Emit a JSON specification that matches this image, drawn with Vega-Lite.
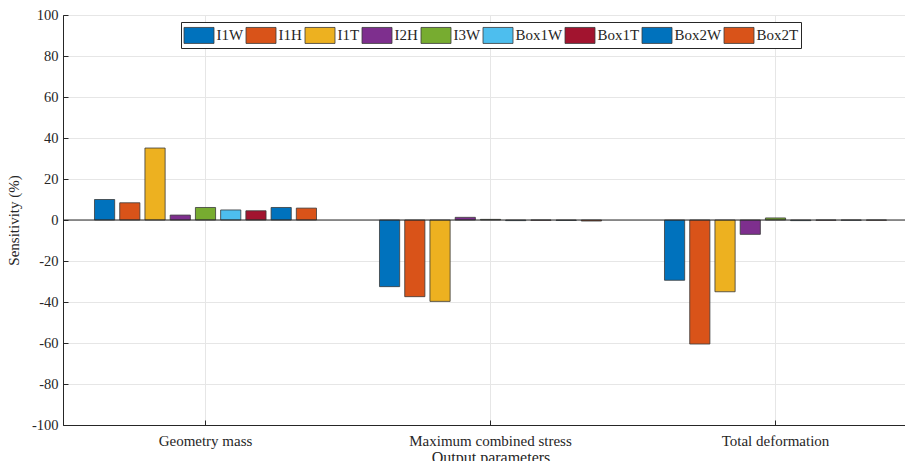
{
  "$schema": "https://vega.github.io/schema/vega-lite/v6.json",
  "autosize": {"type": "none"},
  "padding": {"left": 63, "top": 15, "right": -13, "bottom": 36},
  "width": 855,
  "height": 410,
  "background": "white",
  "config": {
    "font": "Liberation Serif",
    "view": {"stroke": "#262626", "strokeWidth": 1},
    "axis": {
      "labelFont": "Liberation Serif",
      "titleFont": "Liberation Serif",
      "labelColor": "#262626",
      "titleColor": "#262626",
      "titleFontWeight": "normal",
      "labelFontSize": 14,
      "titleFontSize": 15,
      "domainColor": "#262626",
      "tickColor": "#262626",
      "gridColor": "#e6e6e6",
      "gridWidth": 1
    }
  },
  "data": {
    "values": [
      {"output": "Geometry mass", "param": "I1W", "value": 10.0},
      {"output": "Geometry mass", "param": "I1H", "value": 8.4},
      {"output": "Geometry mass", "param": "I1T", "value": 35.1},
      {"output": "Geometry mass", "param": "I2H", "value": 2.4},
      {"output": "Geometry mass", "param": "I3W", "value": 6.1},
      {"output": "Geometry mass", "param": "Box1W", "value": 4.9},
      {"output": "Geometry mass", "param": "Box1T", "value": 4.5},
      {"output": "Geometry mass", "param": "Box2W", "value": 6.1},
      {"output": "Geometry mass", "param": "Box2T", "value": 5.8},
      {"output": "Maximum combined stress", "param": "I1W", "value": -32.5},
      {"output": "Maximum combined stress", "param": "I1H", "value": -37.4},
      {"output": "Maximum combined stress", "param": "I1T", "value": -39.7},
      {"output": "Maximum combined stress", "param": "I2H", "value": 1.3},
      {"output": "Maximum combined stress", "param": "I3W", "value": 0.3},
      {"output": "Maximum combined stress", "param": "Box1W", "value": -0.3},
      {"output": "Maximum combined stress", "param": "Box1T", "value": -0.1},
      {"output": "Maximum combined stress", "param": "Box2W", "value": -0.2},
      {"output": "Maximum combined stress", "param": "Box2T", "value": -0.5},
      {"output": "Total deformation", "param": "I1W", "value": -29.4},
      {"output": "Total deformation", "param": "I1H", "value": -60.5},
      {"output": "Total deformation", "param": "I1T", "value": -35.0},
      {"output": "Total deformation", "param": "I2H", "value": -7.0},
      {"output": "Total deformation", "param": "I3W", "value": 1.0},
      {"output": "Total deformation", "param": "Box1W", "value": -0.3},
      {"output": "Total deformation", "param": "Box1T", "value": -0.1},
      {"output": "Total deformation", "param": "Box2W", "value": -0.1},
      {"output": "Total deformation", "param": "Box2T", "value": -0.1}
    ]
  },
  "layer": [
    {
      "mark": {"type": "bar", "stroke": "#3a3a3a", "strokeWidth": 0.8},
      "encoding": {
        "x": {
          "field": "output", "type": "nominal",
          "scale": {"paddingInner": 0.221, "paddingOuter": 0.1105},
          "axis": {"labelAngle": 0, "title": "Output parameters", "grid": true, "tickSize": -5, "labelPadding": 13, "titlePadding": 1, "labelFontSize": 15, "titleFontSize": 16}
        },
        "xOffset": {
          "field": "param", "type": "nominal",
          "sort": ["I1W", "I1H", "I1T", "I2H", "I3W", "Box1W", "Box1T", "Box2W", "Box2T"],
          "scale": {"paddingInner": 0.2, "paddingOuter": 0}
        },
        "y": {
          "field": "value", "type": "quantitative",
          "scale": {"domain": [-100, 100], "nice": false, "zero": false},
          "axis": {
            "values": [-100, -80, -60, -40, -20, 0, 20, 40, 60, 80, 100],
            "labelExpr": "datum.value < 0 ? '-' + abs(datum.value) : '' + datum.value",
            "title": "Sensitivity (%)", "grid": true, "tickSize": -5, "labelPadding": 10, "titlePadding": 10, "labelFontSize": 14.5, "titleFontSize": 15
          }
        },
        "color": {
          "field": "param", "type": "nominal",
          "scale": {
            "domain": ["I1W", "I1H", "I1T", "I2H", "I3W", "Box1W", "Box1T", "Box2W", "Box2T"],
            "range": ["#0072BD", "#D95319", "#EDB120", "#7E2F8E", "#77AC30", "#4DBEEE", "#A2142F", "#0072BD", "#D95319"]
          },
          "legend": {
            "orient": "none",
            "legendX": 118,
            "legendY": 7,
            "direction": "horizontal",
            "title": null,
            "symbolType": "M-1.5,-0.8H1.5V0.8H-1.5Z",
            "symbolSize": 400,
            "symbolOffset": 5,
            "symbolStrokeColor": "#3a3a3a",
            "symbolStrokeWidth": 0.8,
            "symbolOpacity": 1,
            "labelFont": "Liberation Serif",
            "labelFontSize": 15,
            "labelColor": "#262626",
            "columnPadding": 0,
            "labelOffset": 7,
            "padding": 2.5,
            "strokeColor": "#262626",
            "fillColor": "white"
          }
        }
      }
    },
    {
      "data": {"values": [{"y": 0}]},
      "mark": {"type": "rule", "color": "#262626", "strokeWidth": 1},
      "encoding": {"y": {"field": "y", "type": "quantitative"}}
    }
  ]
}
